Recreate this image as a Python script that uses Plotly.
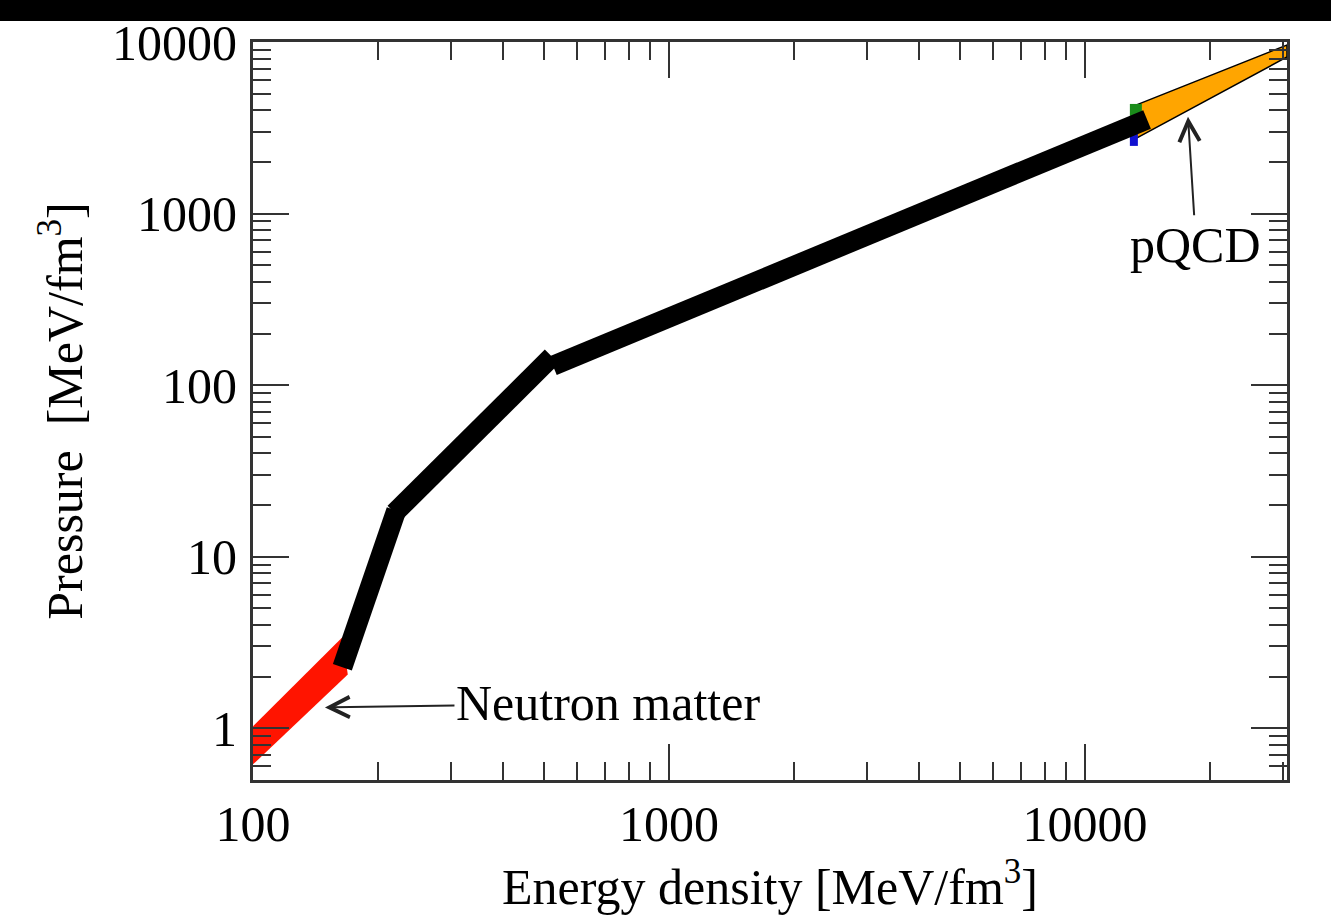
import plotly.graph_objects as go

# ---- data ----
# black EoS path, drawn as three separate segments
seg1_x = [164, 221]
seg1_y = [2.27, 18.6]
seg2_x = [219, 523]
seg2_y = [18.0, 146.6]
seg3_x = [526, 14100]
seg3_y = [129.8, 3540]

# neutron matter band (red)
nm_x = [100, 164, 169, 100]
nm_y = [1.03, 3.39, 2.06, 0.617]

# pQCD band (orange)
pq_x = [13300, 30590, 30590, 13300]
pq_y = [4300, 9600, 8180, 2750]

# small green / blue edge patches at the start of the pQCD band
green_x = [12820, 13700, 13700, 12820]
green_y = [4355, 4355, 3707, 3707]
blue_x = [12820, 13400, 13400, 12820]
blue_y = [2913, 2913, 2480, 2480]

x_major = [100, 1000, 10000]
x_labels = ["100", "1000", "10000"]
y_major = [1, 10, 100, 1000, 10000]
y_labels = ["1", "10", "100", "1000", "10000"]
x_minor = [m * d for d in [100, 1000, 10000] for m in range(2, 10)]
y_minor = [m * d for d in [0.1, 1, 10, 100, 1000] for m in range(2, 10)]

FONT = "Liberation Serif"
AXC = "#333333"

fig = go.Figure()

fig.add_trace(go.Scatter(x=pq_x, y=pq_y, fill="toself", fillcolor="#ffa500",
                         line=dict(width=1.5, color="black"), mode="lines", hoverinfo="skip"))
fig.add_trace(go.Scatter(x=green_x, y=green_y, fill="toself", fillcolor="#1a8c1a",
                         line=dict(width=0), mode="lines", hoverinfo="skip"))
fig.add_trace(go.Scatter(x=blue_x, y=blue_y, fill="toself", fillcolor="#1010d0",
                         line=dict(width=0), mode="lines", hoverinfo="skip"))
fig.add_trace(go.Scatter(x=nm_x, y=nm_y, fill="toself", fillcolor="#ff1400",
                         line=dict(width=0), mode="lines", hoverinfo="skip"))

for sx, sy in [(seg1_x, seg1_y), (seg2_x, seg2_y), (seg3_x, seg3_y)]:
    fig.add_trace(go.Scatter(x=sx, y=sy, mode="lines",
                             line=dict(color="black", width=20), hoverinfo="skip"))

axis_common = dict(
    showgrid=False, zeroline=False,
    showline=True, linecolor=AXC, linewidth=3, mirror="allticks",
    ticks="inside", ticklen=36, tickwidth=2, tickcolor=AXC,
    tickfont=dict(family=FONT, size=50, color="black"),
    title_font=dict(family=FONT, size=50, color="black"),
)

fig.update_xaxes(
    type="log", range=[2, 4.4856],
    tickmode="array", tickvals=x_major, ticktext=x_labels,
    minor=dict(tickmode="array", tickvals=x_minor, ticks="inside",
               ticklen=18, tickwidth=2, tickcolor=AXC, showgrid=False),
    title_text="Energy density [MeV/fm<sup>3</sup>]", title_standoff=16,
    ticklabelstandoff=-2,
    **axis_common,
)
fig.update_yaxes(
    type="log", range=[-0.30103, 4],
    tickmode="array", tickvals=y_major, ticktext=y_labels,
    minor=dict(tickmode="array", tickvals=y_minor, ticks="inside",
               ticklen=18, tickwidth=2, tickcolor=AXC, showgrid=False),
    title_text="Pressure\u00a0 [MeV/fm<sup>3</sup>]", title_standoff=14,
    ticklabelstandoff=3,
    **axis_common,
)

fig.add_annotation(x=2.173, y=0.122, xref="x", yref="y",
                   text="Neutron matter", showarrow=True,
                   ax=283, ay=-4, axref="pixel", ayref="pixel",
                   arrowhead=5, arrowsize=2.0, arrowwidth=2, arrowcolor="#222",
                   font=dict(family=FONT, size=50, color="black"))
fig.add_annotation(x=4.2476, y=3.564, xref="x", yref="y",
                   text="pQCD", showarrow=True,
                   ax=8, ay=128,
                   arrowhead=5, arrowsize=2.0, arrowwidth=2, arrowcolor="#222",
                   font=dict(family=FONT, size=50, color="black"))

# black band along the top of the image
fig.add_shape(type="rect", xref="paper", yref="paper",
              x0=-0.26, x1=1.05, y0=(780 - 21) / 738, y1=1.06,
              fillcolor="black", line=dict(width=0), layer="above")

fig.update_layout(
    width=1331, height=921,
    margin=dict(l=253, r=44, t=42, b=141),
    paper_bgcolor="white", plot_bgcolor="white",
    showlegend=False,
    font=dict(family=FONT),
)

fig.write_html("out.html")
